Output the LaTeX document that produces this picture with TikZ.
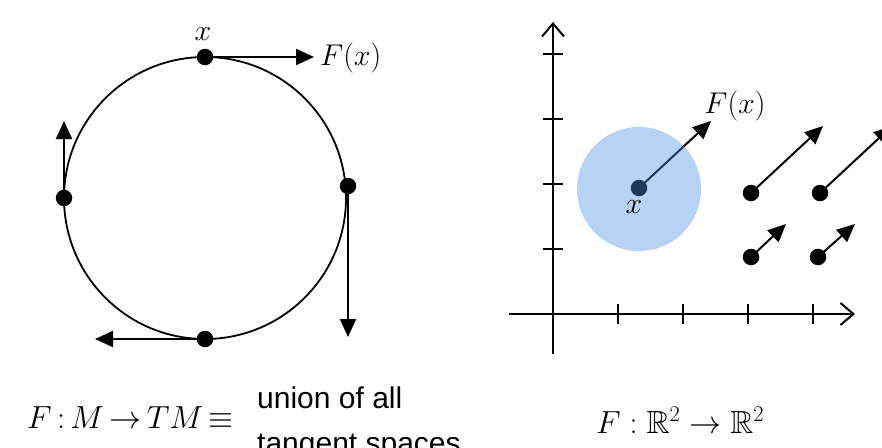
\RequirePackage{fix-cm}
\documentclass[tikz,border=0pt]{standalone}
\usepackage{amssymb}
\usepackage{fontspec}
\newfontfamily\arialfont{Liberation Sans}
\usetikzlibrary{arrows.meta}
\definecolor{discblue}{RGB}{75,145,225}
\tikzset{
  dot/.style={circle, fill=black, inner sep=0pt, minimum size=16.5pt},
  vec/.style={line width=2pt, -{Triangle[length=18pt,width=16pt]}},
  axis/.style={line width=2pt, -{Straight Barb[length=13pt,width=22pt,line width=2pt]}},
  tick/.style={line width=2pt},
  lbl/.style={inner sep=0pt, font=\fontsize{30}{36}\selectfont},
  formula/.style={inner sep=0pt, anchor=base west, font=\fontsize{32}{38}\selectfont},
}
\begin{document}
\begin{tikzpicture}[x=1pt,y=-1pt]
\useasboundingbox (0,0) rectangle (882,447);
\clip (0,0) rectangle (882,447);

% ---------- left: circle with tangent vectors ----------
\node[circle, draw, line width=1.8pt, minimum size=282pt, inner sep=0pt] (circ) at (205,198) {};
\node[dot] (p1) at (205,57) {};
\node[dot] (p2) at (348,186) {};
\node[dot] (p3) at (205,339) {};
\node[dot] (p4) at (64,198) {};
\coordinate (t1) at (314,57);
\coordinate (t2) at (348,337);
\coordinate (t3) at (95,339);
\coordinate (t4) at (64,121);
\draw[vec] (p1.center) -- (t1);
\draw[vec] (p2.center) -- (t2);
\draw[vec] (p3.center) -- (t3);
\draw[vec] (p4.center) -- (t4);
\node[lbl] (lx) at (203,34) {$x$};
\node[lbl, anchor=west] (lFx) at (320,58) {$F(x)$};

\node[formula] (lform) at (27,428) {$\thickmuskip=3mu F:M\to TM\equiv$};
\node[inner sep=0pt, anchor=base west, align=left,
      font=\arialfont\fontsize{30}{45}\selectfont] (union) at (257,453)
      {union of all\\tangent spaces};

% ---------- right: vector field on R^2 ----------
\coordinate (ybot) at (553,354);
\coordinate (ytop) at (553,22);
\coordinate (xl) at (509,314);
\coordinate (xr) at (855,314);
\draw[axis] (ybot) -- (ytop);
\draw[axis] (xl) -- (xr);
\foreach \yy in {54,119,184,249}{
  \draw[tick] (543,\yy) -- (563,\yy);
}
\foreach \xx in {618,683,748,813}{
  \draw[tick] (\xx,304) -- (\xx,324);
}

\node[dot] (q0) at (639,188) {};
\coordinate (s0) at (711,121);
\draw[vec] (q0.center) -- (s0);

\node[dot] (q1) at (751,193) {};
\node[dot] (q2) at (820,193) {};
\node[dot] (q3) at (751,257) {};
\node[dot] (q4) at (818,257) {};
\coordinate (s1) at (823,126);
\coordinate (s2) at (892,126);
\coordinate (s3) at (786,224);
\coordinate (s4) at (855,224);
\draw[vec] (q1.center) -- (s1);
\draw[vec] (q2.center) -- (s2);
\draw[vec] (q3.center) -- (s3);
\draw[vec] (q4.center) -- (s4);

\node[circle, fill=discblue, fill opacity=0.4, inner sep=0pt, minimum size=124pt] (disc) at (639,189) {};

\node[lbl] (rFx) at (735,106) {$F(x)$};
\node[lbl] (rx) at (634,207) {$x$};

\node[formula] (rform) at (596,433) {$F:\mathbb{R}^2\to\mathbb{R}^2$};
\end{tikzpicture}
\end{document}
